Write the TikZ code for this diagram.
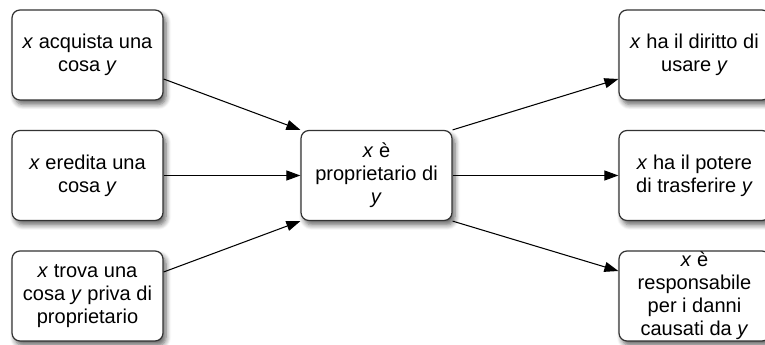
\documentclass[tikz,border=0pt]{standalone}
\usepackage{fontspec}
\setmainfont{Liberation Sans}
\usetikzlibrary{arrows.meta,shadows.blur}
\newcommand{\varx}{\textit{x}}
\newcommand{\vary}{\textit{y}}
\begin{document}
\begin{tikzpicture}[
      box/.style={draw=black!80,line width=0.7pt,rounded corners=0.16cm,fill=white,
         minimum width=3.02cm,minimum height=1.8cm,inner xsep=0pt,inner ysep=0pt,
         align=center,font=\fontsize{11.4}{13.1}\selectfont,
         blur shadow={shadow xshift=0.06cm,shadow yshift=-0.09cm,shadow blur steps=6,
            shadow blur radius=0.1cm,shadow opacity=60}},
      freccia/.style={-{Triangle[length=0.28cm,width=0.2cm]},line width=0.6pt}]
         \useasboundingbox (0,0) rectangle (15.3,6.9);
         \node[box] (acquista) at (1.75,5.8) {\varx{} acquista una\\cosa \vary};
         \node[box] (eredita) at (1.75,3.39) {\varx{} eredita una\\cosa \vary};
         \node[box] (trova) at (1.75,0.98) {\varx{} trova una\\cosa \vary{} priva di\\proprietario};
         \node[box] (proprietario) at (7.53,3.39) {\varx{} è\\proprietario di\\\vary};
         \node[box] (usare) at (13.89,5.8) {\varx{} ha il diritto di\\usare \vary};
         \node[box] (trasferire) at (13.89,3.39) {\varx{} ha il potere\\di trasferire \vary};
         \node[box] (danni) at (13.89,0.98) {\varx{} è\\responsabile\\per i danni\\causati da \vary};
         \draw[freccia] ([yshift=-0.48cm]acquista.east) -- (proprietario.north west);
         \draw[freccia] (eredita.east) -- (proprietario.west);
         \draw[freccia] ([yshift=0.48cm]trova.east) -- (proprietario.south west);
         \draw[freccia] (proprietario.north east) -- ([yshift=-0.48cm]usare.west);
         \draw[freccia] (proprietario.east) -- (trasferire.west);
         \draw[freccia] (proprietario.south east) -- ([yshift=0.5cm]danni.west);
      \end{tikzpicture}
\end{document}
